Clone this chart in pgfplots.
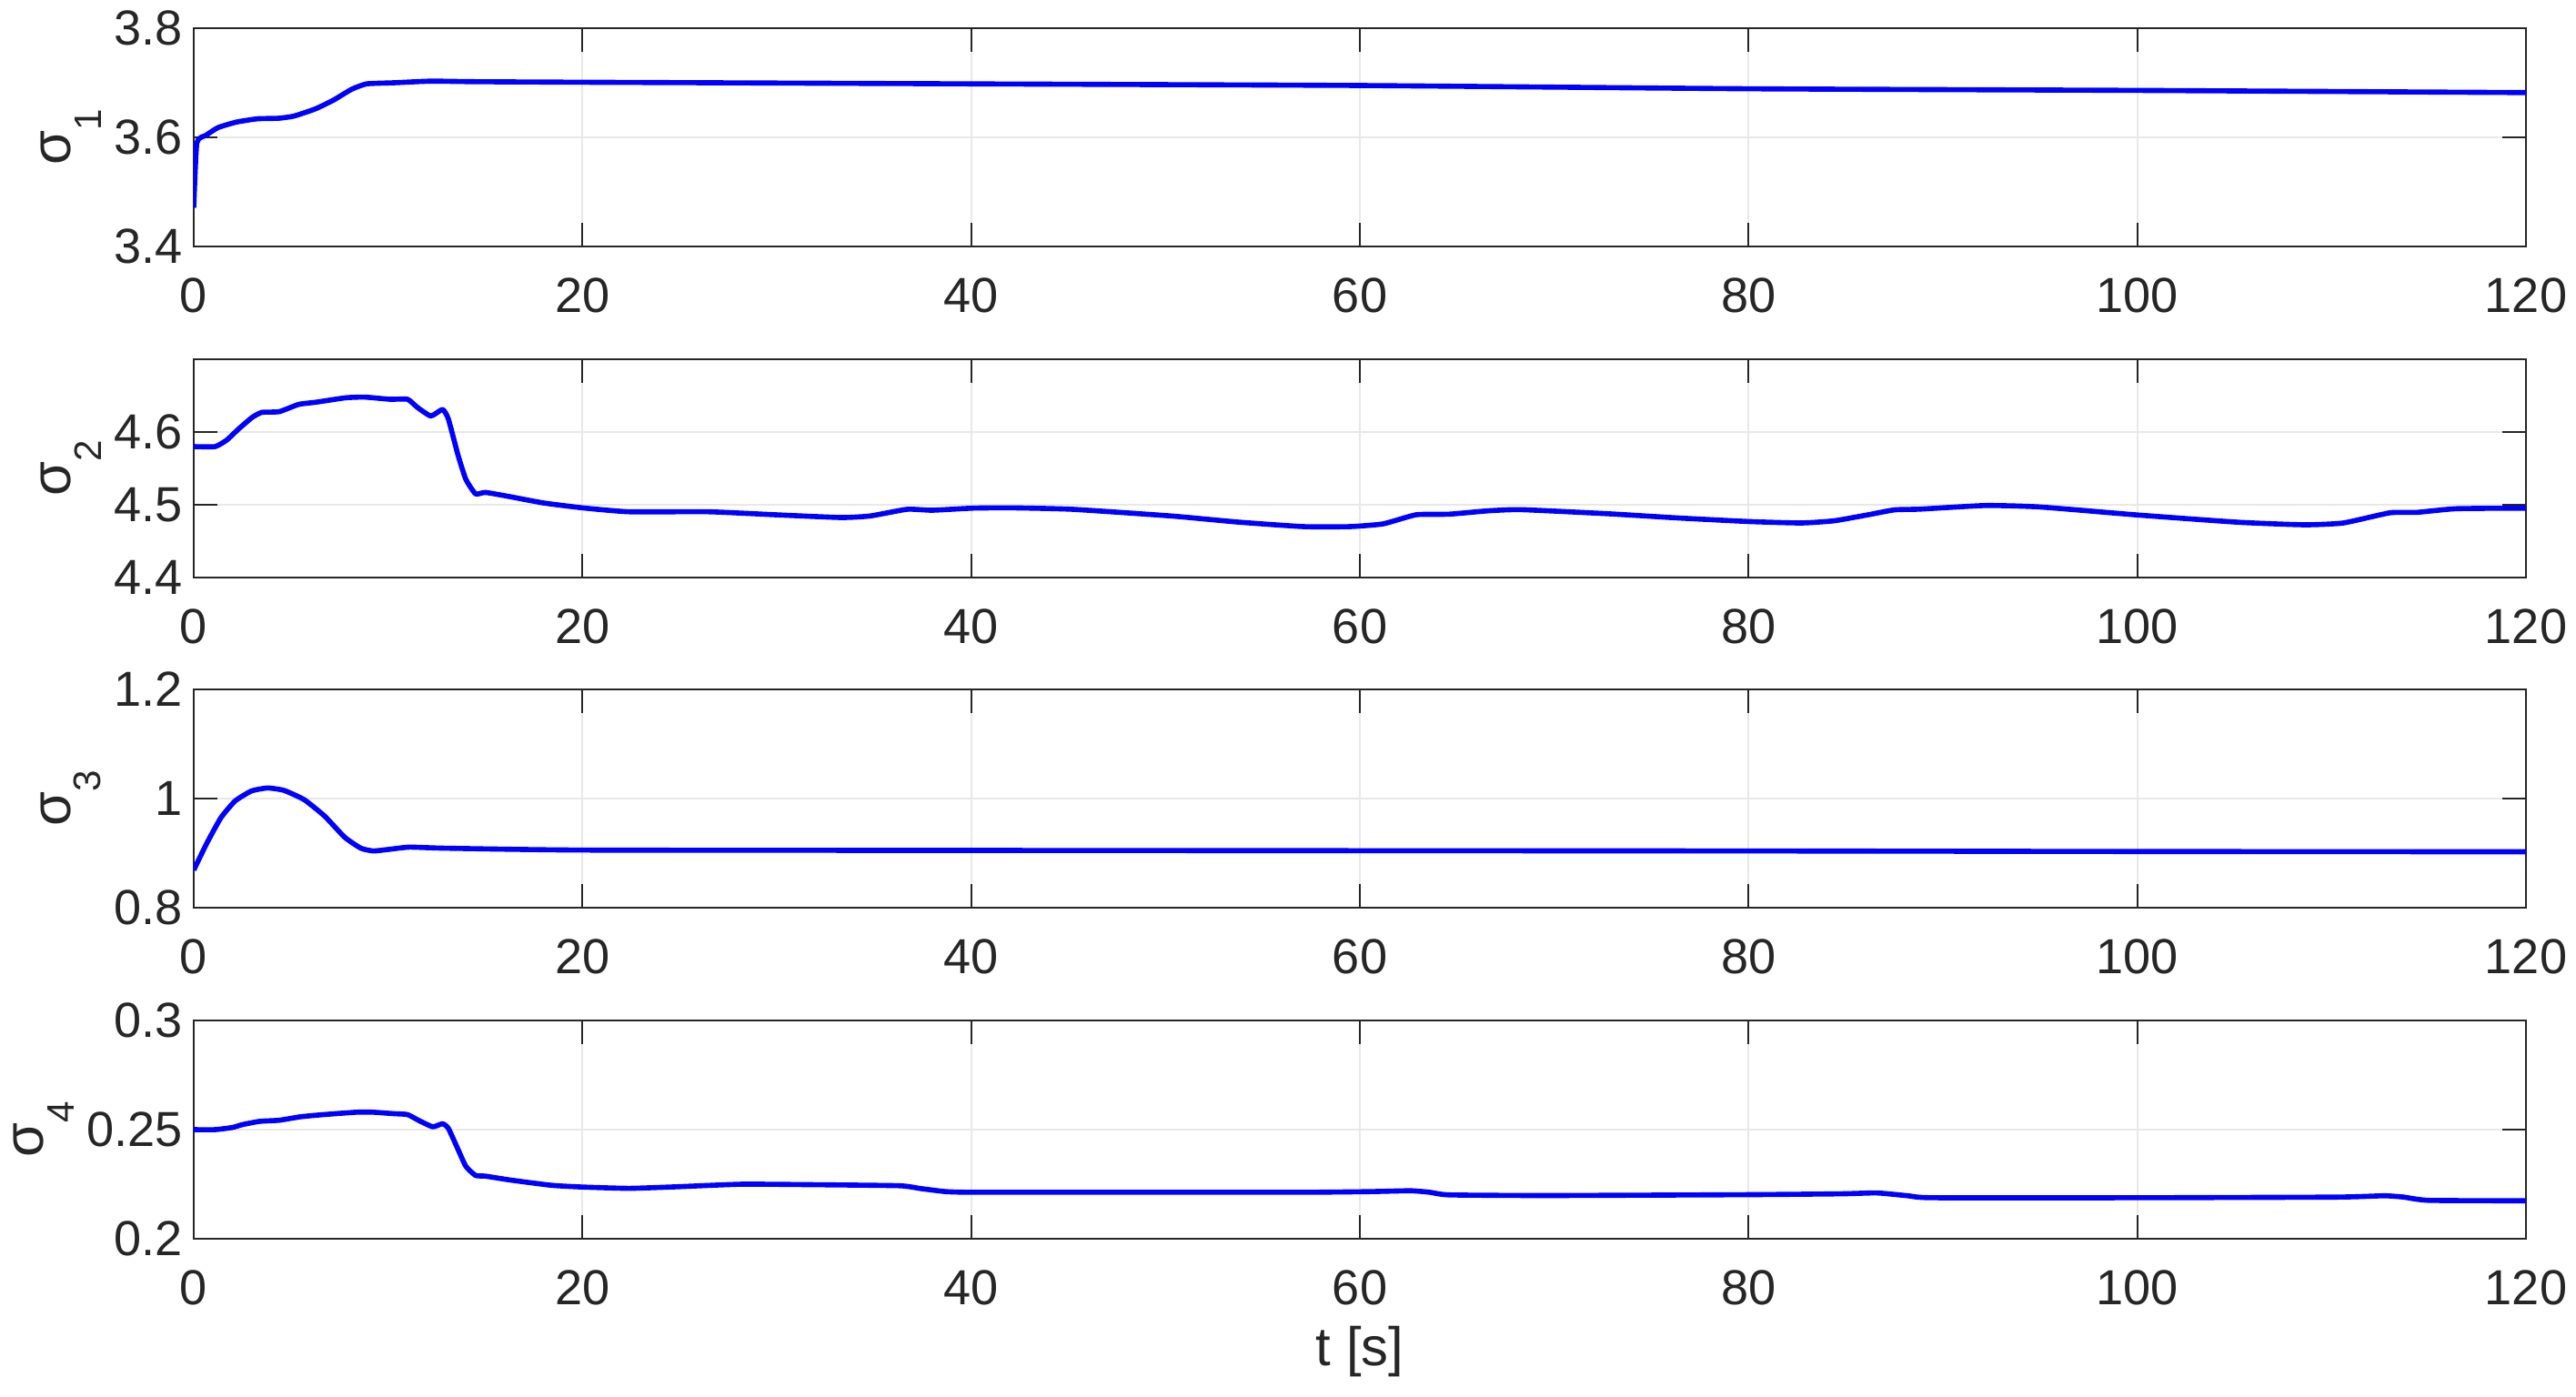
\documentclass[border=0pt]{standalone}
\usepackage{fontspec}
\setmainfont{Liberation Sans}
\usepackage{pgfplots}
\pgfplotsset{compat=1.18}
\definecolor{axcol}{RGB}{38,38,38}
\definecolor{gridcol}{RGB}{232,232,232}
\newcommand{\siglab}[1]{{\fontsize{17.5}{18}\selectfont σ\raisebox{-9.5pt}{\fontsize{12}{13}\selectfont #1}}}
\pgfplotsset{
  mysub/.style={
    scale only axis,
    width=256.4mm, height=24mm,
    anchor=north west,
    xmin=0, xmax=120,
    xtick={0,20,40,60,80,100,120},
    grid=major,
    major grid style={gridcol, line width=0.6pt},
    axis line style={axcol, line width=0.6pt},
    tick style={axcol, line width=0.6pt},
    major tick length=2.6mm,
    tick align=inside,
    xtick pos=both, ytick pos=both,
    tick label style={font=\fontsize{15.4}{17}\selectfont, text=axcol},
    xticklabel style={yshift=-6.2pt},
    /pgf/number format/assume math mode=true,
    /pgf/number format/fixed,
    ylabel style={inner sep=0.5pt, text=axcol},
    xlabel style={font=\fontsize{17}{19}\selectfont, text=axcol},
    every axis plot/.append style={blue, line width=1.6pt, no markers, line join=round, smooth, tension=0.3},
  }
}
\begin{document}
\begin{tikzpicture}
\useasboundingbox (0,0) rectangle (283.2mm,-153.5mm);
% sigma 1
\begin{axis}[mysub, at={(21.3mm,-3.1mm)}, ymin=3.4, ymax=3.8, ytick={3.4,3.6,3.8}, ylabel={\siglab{1}}]
\addplot coordinates {(0,3.471) (0.16,3.590) (0.64,3.604) (1.26,3.618) (2.2,3.628) (3.29,3.634) (4.38,3.635) (5.16,3.639) (6.25,3.652) (7.18,3.668) (8.12,3.688) (8.9,3.698) (10.3,3.700) (12.2,3.703) (14.4,3.702) (20,3.701) (40,3.698) (60,3.695) (80,3.689) (100,3.686) (120,3.682)};
\end{axis}
% sigma 2
\begin{axis}[mysub, at={(21.3mm,-39.5mm)}, ymin=4.4, ymax=4.7, ytick={4.4,4.5,4.6}, ylabel={\siglab{2}}]
\addplot coordinates {(0,4.580) (1.1,4.580) (1.7,4.589) (2.3,4.604) (3.0,4.620) (3.5,4.627) (4.4,4.628) (5.4,4.638) (6.3,4.641) (7.8,4.647) (8.8,4.648) (10.1,4.645) (11.0,4.645) (11.5,4.634) (12.2,4.622) (12.8,4.631) (13.1,4.618) (13.6,4.568) (14.0,4.535) (14.5,4.515) (15.0,4.517) (16.1,4.512) (18.0,4.5025) (20,4.4958) (22.4,4.4904) (26.5,4.4904) (29.9,4.4863) (33.3,4.4825) (34.8,4.4846) (36.7,4.4938) (38.0,4.4925) (40.1,4.4954) (42.1,4.4958) (45.2,4.4938) (50.3,4.4846) (53.7,4.4763) (57.1,4.470) (59.5,4.470) (61.2,4.4738) (62.9,4.4863) (64.6,4.4871) (66.6,4.4917) (68.3,4.4933) (72.9,4.4875) (76.3,4.482) (80,4.477) (82.7,4.475) (84.4,4.478) (86.1,4.486) (87.5,4.493) (88.8,4.494) (92.2,4.499) (95.0,4.497) (100,4.486) (105.2,4.476) (108.6,4.4725) (110.6,4.475) (113,4.489) (114.4,4.4896) (116.4,4.4946) (120,4.4954)};
\end{axis}
% sigma 3
\begin{axis}[mysub, at={(21.3mm,-75.8mm)}, ymin=0.8, ymax=1.2, ytick={0.8,1,1.2}, ylabel={\siglab{3}}]
\addplot coordinates {(0,0.869) (0.67,0.918) (1.4,0.965) (2.13,0.9956) (2.97,1.0139) (3.8,1.0194) (4.64,1.015) (5.68,0.998) (6.73,0.968) (7.77,0.929) (8.6,0.909) (9.24,0.904) (10.07,0.907) (11.1,0.911) (13,0.909) (20,0.9056) (40,0.905) (60,0.9045) (80,0.904) (100,0.903) (120,0.9025)};
\end{axis}
% sigma 4
\begin{axis}[mysub, at={(21.3mm,-112.2mm)}, ymin=0.2, ymax=0.3, ytick={0.2,0.25,0.3}, ylabel={\siglab{4}}, xlabel={t [s]}]
\addplot coordinates {(0,0.25) (1.1,0.25) (2.0,0.251) (2.5,0.2523) (3.4,0.2538) (4.4,0.2543) (5.5,0.2559) (6.7,0.2569) (8.4,0.258) (9.2,0.258) (10.3,0.2573) (11.0,0.2569) (11.6,0.2541) (12.3,0.2513) (12.8,0.2527) (13.1,0.2506) (13.6,0.2409) (14.0,0.2332) (14.5,0.229) (15.0,0.2287) (16.3,0.2269) (18.4,0.2245) (20,0.2237) (22.4,0.2231) (24.8,0.2238) (28.2,0.225) (31.6,0.2248) (36.3,0.2243) (37.4,0.223) (38.7,0.2216) (40.1,0.2213) (46.9,0.2213) (57.1,0.2213) (60.5,0.2216) (62.6,0.222) (63.6,0.2213) (64.6,0.2201) (69.6,0.2198) (80,0.2202) (84.8,0.2206) (86.6,0.221) (88.2,0.2197) (89.5,0.2188) (100,0.2188) (110.3,0.2191) (112.7,0.2197) (113.7,0.2191) (115,0.2176) (120,0.2174)};
\end{axis}
\end{tikzpicture}
\end{document}
